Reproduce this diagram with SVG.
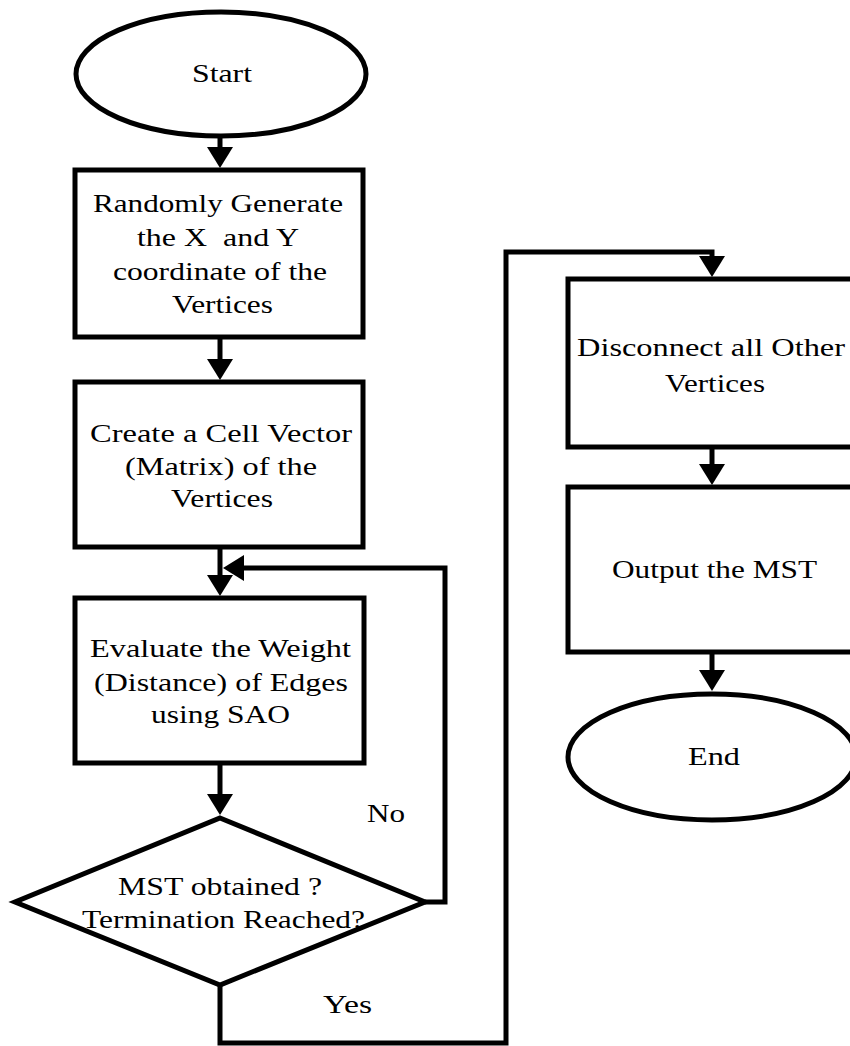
<svg xmlns="http://www.w3.org/2000/svg" width="850" height="1046" viewBox="0 0 850 1046">
  <style>
    .shape { fill: #ffffff; stroke: #000000; stroke-width: 5; stroke-linejoin: miter; }
    .label { font-family: "Liberation Serif", "Times New Roman", serif; font-size: 25px; fill: #000000; }
    .wire { fill: none; stroke: #000000; stroke-width: 5; stroke-linejoin: miter; stroke-linecap: butt; }
  </style>
  <defs>
    <marker id="head" viewBox="0 0 21 26" refX="9" refY="13" markerWidth="21" markerHeight="26" markerUnits="userSpaceOnUse" orient="auto">
      <path d="M0,0 L21,13 L0,26 Z" fill="#000000"/>
    </marker>
  </defs>
  <rect width="850" height="1046" fill="#ffffff"/>

  <g id="connectors">
    <path class="wire" d="M220,137 V156" marker-end="url(#head)"/>
    <path class="wire" d="M220,337 V368" marker-end="url(#head)"/>
    <path class="wire" d="M220,547 V584" marker-end="url(#head)"/>
    <path class="wire" d="M220,763 V803" marker-end="url(#head)"/>
    <path class="wire" d="M425,902 H445 V568 H235" marker-end="url(#head)"/>
    <path class="wire" d="M220,985 V1043 H506 V252 H712 V265" marker-end="url(#head)"/>
    <path class="wire" d="M712,447 V473" marker-end="url(#head)"/>
    <path class="wire" d="M712,652 V679" marker-end="url(#head)"/>
    <text class="label" x="367" y="822" textLength="38" lengthAdjust="spacingAndGlyphs">No</text>
    <text class="label" x="323" y="1013" textLength="49" lengthAdjust="spacingAndGlyphs">Yes</text>
  </g>

  <g id="start">
    <ellipse class="shape" cx="221" cy="74" rx="145" ry="62"/>
    <text class="label" x="192" y="82" textLength="60" lengthAdjust="spacingAndGlyphs">Start</text>
  </g>

  <g id="generate">
    <rect class="shape" x="75" y="170" width="288" height="167"/>
    <text class="label" x="93" y="212" textLength="250" lengthAdjust="spacingAndGlyphs">Randomly Generate</text>
    <text class="label" x="137" y="246" textLength="162" lengthAdjust="spacingAndGlyphs" xml:space="preserve">the X  and Y</text>
    <text class="label" x="113" y="280" textLength="214" lengthAdjust="spacingAndGlyphs">coordinate of the</text>
    <text class="label" x="172" y="313" textLength="101" lengthAdjust="spacingAndGlyphs">Vertices</text>
  </g>

  <g id="cell-vector">
    <rect class="shape" x="75" y="382" width="288" height="165"/>
    <text class="label" x="90" y="442" textLength="262" lengthAdjust="spacingAndGlyphs">Create a Cell Vector</text>
    <text class="label" x="125" y="475" textLength="192" lengthAdjust="spacingAndGlyphs">(Matrix) of the</text>
    <text class="label" x="171" y="507" textLength="102" lengthAdjust="spacingAndGlyphs">Vertices</text>
  </g>

  <g id="evaluate">
    <rect class="shape" x="75" y="598" width="289" height="165"/>
    <text class="label" x="90" y="657" textLength="261" lengthAdjust="spacingAndGlyphs">Evaluate the Weight</text>
    <text class="label" x="94" y="691" textLength="254" lengthAdjust="spacingAndGlyphs">(Distance) of Edges</text>
    <text class="label" x="151" y="723" textLength="139" lengthAdjust="spacingAndGlyphs">using SAO</text>
  </g>

  <g id="decision">
    <polygon class="shape" points="220,818 425,902 220,985 15,902"/>
    <text class="label" x="118" y="895" textLength="204" lengthAdjust="spacingAndGlyphs">MST obtained ?</text>
    <text class="label" x="82" y="928" textLength="283" lengthAdjust="spacingAndGlyphs">Termination Reached?</text>
  </g>

  <g id="disconnect">
    <rect class="shape" x="568" y="279" width="288" height="168"/>
    <text class="label" x="577" y="356" textLength="268" lengthAdjust="spacingAndGlyphs">Disconnect all Other</text>
    <text class="label" x="665" y="392" textLength="100" lengthAdjust="spacingAndGlyphs">Vertices</text>
  </g>

  <g id="output">
    <rect class="shape" x="568" y="487" width="288" height="165"/>
    <text class="label" x="612" y="578" textLength="205" lengthAdjust="spacingAndGlyphs">Output the MST</text>
  </g>

  <g id="end">
    <ellipse class="shape" cx="712" cy="757" rx="144" ry="63"/>
    <text class="label" x="688" y="765" textLength="52" lengthAdjust="spacingAndGlyphs">End</text>
  </g>
</svg>
